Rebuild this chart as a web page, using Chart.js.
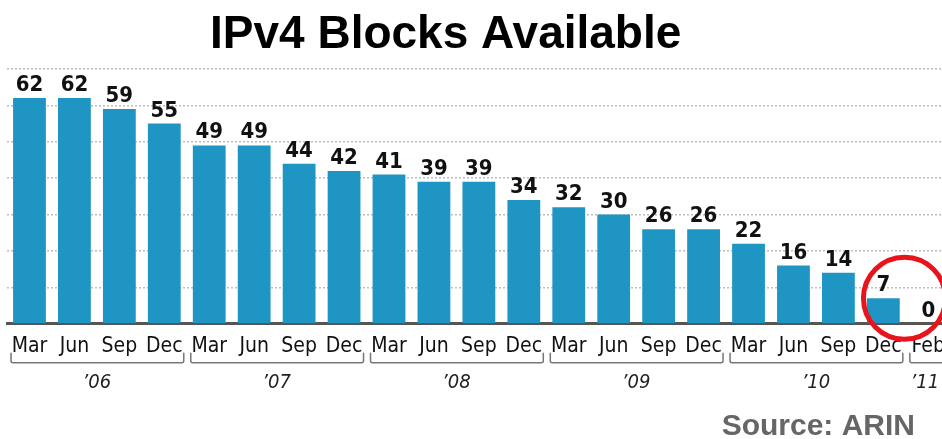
<!DOCTYPE html>
<html>
<head>
<meta charset="utf-8">
<script src="https://cdn.jsdelivr.net/npm/chart.js@4/dist/chart.umd.min.js"></script>
<style>
  html, body { margin: 0; padding: 0; background: #fff; overflow: hidden; }
  #wrap { position: relative; width: 942px; height: 439px; overflow: hidden; }
  canvas { position: absolute; left: 0; top: 0; }
</style>
</head>
<body>
<div id="wrap"><canvas id="chart" width="955" height="439"></canvas></div>
<script>
// quarter labels, year groups and remaining blocks
const quarters = ['Mar','Jun','Sep','Dec','Mar','Jun','Sep','Dec','Mar','Jun','Sep','Dec',
                  'Mar','Jun','Sep','Dec','Mar','Jun','Sep','Dec','Feb'];
const years = ['\u201906','\u201907','\u201908','\u201909','\u201910','\u201911'];
const yearSizes = [4, 4, 4, 4, 4, 1];
const blocks = [62,62,59,55,49,49,44,42,41,39,39,34,32,30,26,26,22,16,14,7,0];
const yTicks = [0, 10, 20, 30, 40, 50, 60, 70];

const condensed = "'DejaVu Sans Condensed', 'Liberation Sans Narrow', sans-serif";

const extras = {
  id: 'extras',
  afterDatasetsDraw(chart) {
    const ctx = chart.ctx;
    const x = chart.scales.x, y = chart.scales.y;
    // value labels on top of bars
    ctx.save();
    ctx.fillStyle = '#111';
    ctx.font = "bold 22px " + condensed;
    ctx.textAlign = 'center';
    ctx.textBaseline = 'alphabetic';
    blocks.forEach((v, i) => {
      ctx.fillText(String(v), x.getPixelForValue(i), y.getPixelForValue(v) - 7);
    });
    ctx.restore();
  },
  afterDraw(chart) {
    const ctx = chart.ctx;
    const x = chart.scales.x, y = chart.scales.y;
    const step = x.getPixelForValue(1) - x.getPixelForValue(0);
    const base = chart.chartArea.bottom;
    // year brackets
    ctx.save();
    ctx.strokeStyle = '#777';
    ctx.lineWidth = 1.5;
    ctx.fillStyle = '#222';
    ctx.font = "italic 20px " + condensed;
    ctx.textAlign = 'center';
    let start = 0;
    yearSizes.forEach((n, g) => {
      const l = x.getPixelForValue(start) - step / 2 + 4;
      const r = x.getPixelForValue(start + n - 1) + step / 2 - 3;
      const top = base + 29, bot = base + 39;
      ctx.beginPath();
      ctx.moveTo(l, top);
      ctx.lineTo(l, bot - 2);
      ctx.quadraticCurveTo(l, bot, l + 2, bot);
      ctx.lineTo(r - 2, bot);
      ctx.quadraticCurveTo(r, bot, r, bot - 2);
      ctx.lineTo(r, top);
      ctx.stroke();
      const cx = n === 1 ? l + 15 : (x.getPixelForValue(start) + x.getPixelForValue(start + n - 1)) / 2;
      ctx.fillText(years[g], cx, base + 64);
      start += n;
    });
    ctx.restore();

    // red circle around the last quarters
    const last = blocks.length - 1;
    ctx.save();
    ctx.strokeStyle = '#e8141c';
    ctx.lineWidth = 5;
    ctx.beginPath();
    ctx.arc(x.getPixelForValue(last - 1) + step * 0.47, y.getPixelForValue(blocks[last - 1]), 41, 0, Math.PI * 2);
    ctx.stroke();
    ctx.restore();

    // title and source
    ctx.save();
    ctx.fillStyle = '#000';
    ctx.font = "bold 46px 'Liberation Sans', Arial, sans-serif";
    ctx.textAlign = 'left';
    ctx.fillText('IPv4 Blocks Available', 210, 48);
    ctx.fillStyle = '#666';
    ctx.font = "bold 30px 'Liberation Sans', Arial, sans-serif";
    ctx.textAlign = 'right';
    ctx.fillText('Source: ARIN', 915, 435);
    ctx.restore();
  }
};

new Chart(document.getElementById('chart'), {
  type: 'bar',
  data: {
    labels: quarters,
    datasets: [{
      data: blocks,
      backgroundColor: '#1f95c3',
      borderWidth: 0,
      barPercentage: 0.73,
      categoryPercentage: 1
    }]
  },
  options: {
    responsive: false,
    animation: false,
    events: [],
    layout: { padding: { left: 7, right: 2, top: 69, bottom: 70 } },
    plugins: { legend: { display: false }, tooltip: { enabled: false }, title: { display: false } },
    scales: {
      x: {
        grid: { display: false, drawTicks: false },
        border: { display: true, color: '#555', width: 3 },
        ticks: {
          color: '#111',
          padding: 10,
          maxRotation: 0,
          autoSkip: false,
          font: { family: condensed, size: 21 }
        }
      },
      y: {
        min: yTicks[0],
        max: yTicks[yTicks.length - 1],
        afterBuildTicks: (s) => { s.ticks = yTicks.map(v => ({ value: v })); },
        grid: { color: '#bdbdbd', lineWidth: 1.5, drawTicks: false },
        border: { display: false, dash: [2, 2] },
        ticks: { display: false }
      }
    }
  },
  plugins: [extras]
});
</script>
</body>
</html>
